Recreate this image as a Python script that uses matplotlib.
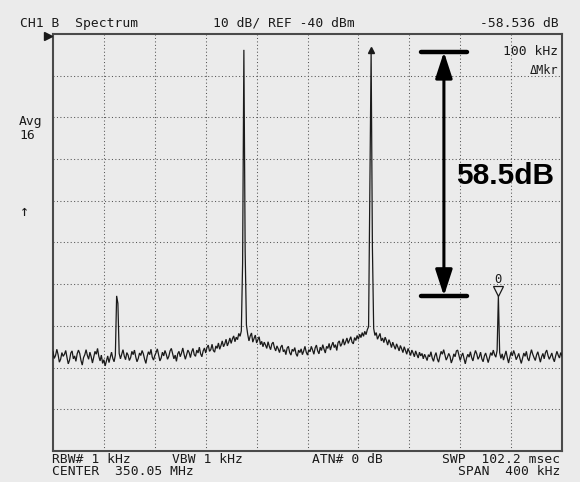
import numpy as np
import matplotlib
matplotlib.use("Agg")
import matplotlib.pyplot as plt
import matplotlib.transforms as mtransforms

# ---- analyzer settings -------------------------------------------------
center_mhz = 350.05
span_mhz = 0.4
ref_dbm = -40.0
db_per_div = 10.0

# ---- measured trace (dBm), 401 points (1 kHz apart) across the span ----
trace_dbm = [
    -116.2, -117.8, -117.1, -115.6, -116.9, -118.7, -118.0, -116.4, -117.3, -116.8,
    -115.9, -117.6, -119.1, -118.2, -116.5, -116.0, -117.9, -117.2, -118.5, -116.7,
    -115.8, -116.6, -118.3, -119.4, -117.6, -116.9, -115.7, -117.1, -118.0, -116.3,
    -117.4, -118.9, -117.5, -116.1, -116.8, -115.4, -117.3, -118.4, -117.0, -119.0,
    -118.1, -119.6, -118.4, -117.2, -118.8, -117.5, -116.3, -117.8, -118.6, -117.0,
    -102.8, -104.6, -116.6, -117.9, -116.8, -115.7, -117.2, -118.1, -116.4, -117.0,
    -118.3, -117.6, -116.1, -116.9, -115.8, -117.4, -118.6, -117.8, -116.5, -117.1,
    -115.9, -116.7, -118.0, -119.0, -117.3, -116.2, -116.9, -115.6, -117.5, -118.2,
    -117.1, -116.4, -115.5, -117.0, -118.4, -117.7, -116.3, -117.2, -115.9, -116.8,
    -118.0, -117.3, -116.0, -115.4, -116.6, -117.9, -117.0, -118.5, -116.7, -116.1,
    -117.4, -116.5, -115.3, -116.8, -118.0, -116.9, -115.8, -116.4, -117.6, -116.2,
    -115.4, -116.9, -117.3, -115.8, -116.5, -115.1, -116.7, -117.4, -116.0, -115.3,
    -116.5, -115.2, -114.6, -116.1, -115.7, -114.4, -115.9, -116.3, -114.8, -115.4,
    -114.1, -115.6, -114.7, -113.6, -115.0, -114.3, -113.2, -114.8, -114.0, -112.9,
    -114.2, -113.1, -112.4, -113.8, -112.7, -113.3, -111.8, -112.5, -111.2, -95.0,
    -43.8, -92.0, -109.8, -112.0, -113.6, -112.4, -111.7, -113.9, -113.0, -112.2,
    -114.1, -113.3, -112.6, -114.5, -113.7, -115.0, -113.9, -114.6, -115.4, -113.8,
    -114.9, -115.7, -114.3, -113.9, -115.2, -116.0, -114.8, -115.5, -116.4, -115.1,
    -114.6, -116.2, -115.7, -116.9, -115.3, -114.9, -116.4, -117.0, -115.6, -116.1,
    -115.2, -116.7, -117.3, -115.8, -116.4, -115.5, -116.9, -116.0, -114.9, -116.3,
    -117.0, -115.7, -116.2, -114.9, -115.8, -116.8, -115.3, -114.6, -116.0, -116.7,
    -115.1, -115.9, -114.5, -115.6, -116.5, -114.9, -115.4, -114.2, -115.8, -114.7,
    -113.9, -115.2, -114.5, -115.9, -114.0, -113.6, -114.9, -114.3, -113.1, -114.6,
    -113.8, -112.9, -114.2, -113.4, -112.6, -113.9, -114.3, -112.8, -113.5, -112.3,
    -113.2, -112.0, -112.8, -111.6, -112.5, -111.3, -112.1, -110.9, -110.2, -78.6,
    -44.3, -91.0, -110.6, -112.3, -111.6, -113.2, -112.5, -111.8, -113.6, -112.9,
    -114.0, -112.7, -113.5, -114.6, -113.3, -114.1, -115.2, -113.9, -114.8, -115.6,
    -114.3, -115.1, -116.0, -114.7, -115.5, -116.4, -115.0, -115.9, -116.8, -115.4,
    -116.2, -117.1, -115.8, -116.5, -117.4, -116.0, -116.9, -117.7, -116.3, -117.2,
    -116.6, -117.9, -116.8, -117.5, -118.3, -116.9, -117.4, -116.2, -117.7, -118.5,
    -117.2, -116.4, -117.9, -118.7, -117.3, -116.1, -116.8, -115.7, -117.0, -118.2,
    -117.5, -116.6, -117.3, -118.9, -118.0, -116.7, -117.4, -116.0, -115.8, -117.1,
    -118.3, -117.2, -116.5, -117.8, -119.1, -117.7, -116.8, -117.5, -116.2, -117.6,
    -118.4, -117.0, -115.9, -116.7, -118.0, -117.4, -116.3, -117.9, -118.6, -117.2,
    -116.5, -117.7, -118.8, -117.6, -116.4, -117.1, -115.8, -116.9, -117.5, -115.9,
    -102.8, -116.4, -117.8, -116.7, -118.2, -117.1, -116.0, -117.6, -118.9, -117.5,
    -116.3, -117.2, -115.9, -116.8, -118.1, -117.4, -116.6, -117.9, -119.0, -117.7,
    -116.5, -117.3, -116.1, -117.8, -118.4, -116.9, -115.7, -116.8, -117.6, -118.3,
    -117.0, -116.2, -117.5, -118.7, -117.4, -116.6, -117.9, -116.4, -115.8, -117.1,
    -118.0, -117.3, -116.5, -117.8, -118.6, -117.2, -116.1, -117.0, -117.7, -116.4,
    -117.2,
]

# markers: reference marker (0) and delta marker
mkr0_mhz, mkr0_dbm = 350.20, -102.8
dmkr_mhz, dmkr_dbm = 350.10, -44.3
delta_db = 58.5

header_left = "CH1 B  Spectrum"
header_mid = "10 dB/ REF -40 dBm"
header_right = "-58.536 dB"
side_labels = ["Avg", "16"]
mkr_freq_text = "100 kHz"
mkr_mode_text = "\u0394Mkr"
foot_left = ["RBW# 1 kHz", "CENTER  350.05 MHz"]
foot_vbw = "VBW 1 kHz"
foot_atn = "ATN# 0 dB"
foot_right = ["SWP  102.2 msec", "SPAN  400 kHz"]

# ---- figure ------------------------------------------------------------
W, H = 580, 482
BG = "#ebebeb"
INK = "#1a1a1a"
FRAME = "#4a4a4a"
GRID = "#555555"
MONO = "DejaVu Sans Mono"
FS = 9.4

fig = plt.figure(figsize=(W / 100, H / 100), dpi=100, facecolor=BG)
ax = fig.add_axes([53 / W, (H - 451) / H, 509 / W, 417 / H])
ax.set_facecolor(BG)

f_start = center_mhz - span_mhz / 2
f_stop = center_mhz + span_mhz / 2
freq = np.linspace(f_start, f_stop, len(trace_dbm))
y_bot = ref_dbm - 10 * db_per_div

ax.set_xlim(f_start, f_stop)
ax.set_ylim(y_bot, ref_dbm)

# graticule
for k in range(1, 10):
    ax.axvline(f_start + k * span_mhz / 10, color=GRID, lw=0.75,
               linestyle=(0, (1, 2.3)), zorder=1)
    ax.axhline(ref_dbm - k * db_per_div, color=GRID, lw=0.75,
               linestyle=(0, (1, 2.3)), zorder=1)

ax.set_xticks([])
ax.set_yticks([])
for sp in ax.spines.values():
    sp.set_color(FRAME)
    sp.set_linewidth(1.5)

# trace
ax.plot(freq, trace_dbm, color=INK, lw=0.9, zorder=3, solid_joinstyle="miter")

# marker 0: open down-triangle sitting on the peak
up = lambda px: mtransforms.offset_copy(ax.transData, fig=fig, x=0, y=px, units="dots")
ax.plot([mkr0_mhz], [mkr0_dbm], marker="v", ms=7, mfc=BG, mec=INK, mew=0.9,
        transform=up(4.5), zorder=4, clip_on=False)
ax.text(mkr0_mhz, mkr0_dbm, "0", transform=up(10), ha="center", va="bottom",
        family=MONO, fontsize=FS - 0.6, color=INK)

# delta marker: small filled arrowhead on the peak
ax.plot([dmkr_mhz], [dmkr_dbm], marker="^", ms=4.5, color=INK,
        transform=up(2), zorder=4, clip_on=False)

# reference-level pointer at the top-left corner
ax.plot([f_start], [ref_dbm], marker=">", ms=6, color=INK,
        transform=mtransforms.offset_copy(ax.transData, fig=fig, x=-5, y=-2, units="dots"),
        clip_on=False, zorder=5)

# delta annotation: bars, double arrow and label
arrow_x = f_start + 0.768 * span_mhz
bar_half = 0.045 * span_mhz
top_lvl = dmkr_dbm
bot_lvl = dmkr_dbm - delta_db
for lvl in (top_lvl, bot_lvl):
    ax.plot([arrow_x - bar_half, arrow_x + bar_half], [lvl, lvl], color="black",
            lw=3.2, solid_capstyle="round", zorder=6)
ax.annotate("", xy=(arrow_x, top_lvl), xytext=(arrow_x, bot_lvl),
            arrowprops=dict(arrowstyle="<|-|>,head_length=0.4,head_width=0.13",
                            mutation_scale=40, lw=2.2, color="black",
                            shrinkA=0, shrinkB=0), zorder=6)
ax.text(0.888, 0.659, f"{delta_db:.1f}dB", transform=ax.transAxes,
        ha="center", va="center", fontsize=21.5, fontweight="bold",
        family="Liberation Sans", color="black", zorder=7)


def ftext(x, y, s, **kw):
    kw.setdefault("family", MONO)
    kw.setdefault("fontsize", FS)
    kw.setdefault("color", INK)
    kw.setdefault("va", "baseline")
    fig.text(x / W, 1 - y / H, s, **kw)


# header
ftext(20, 27, header_left)
ftext(213, 27, header_mid)
ftext(559, 27, header_right, ha="right")

# left-side annotations
ftext(19, 125, side_labels[0])
ftext(19, 139, side_labels[1])
ftext(24, 211, "\u2191", ha="center", va="center", fontsize=FS + 1.5)

# marker readout inside the graticule
ftext(558, 55, mkr_freq_text, ha="right")
ftext(558, 74, mkr_mode_text, ha="right", fontsize=FS - 0.8)

# footer
ftext(52, 463, foot_left[0])
ftext(52, 475, foot_left[1])
ftext(172, 463, foot_vbw)
ftext(312, 463, foot_atn)
ftext(560, 463, foot_right[0], ha="right")
ftext(560, 475, foot_right[1], ha="right")

fig.savefig("out.png", dpi=100, facecolor=BG)
